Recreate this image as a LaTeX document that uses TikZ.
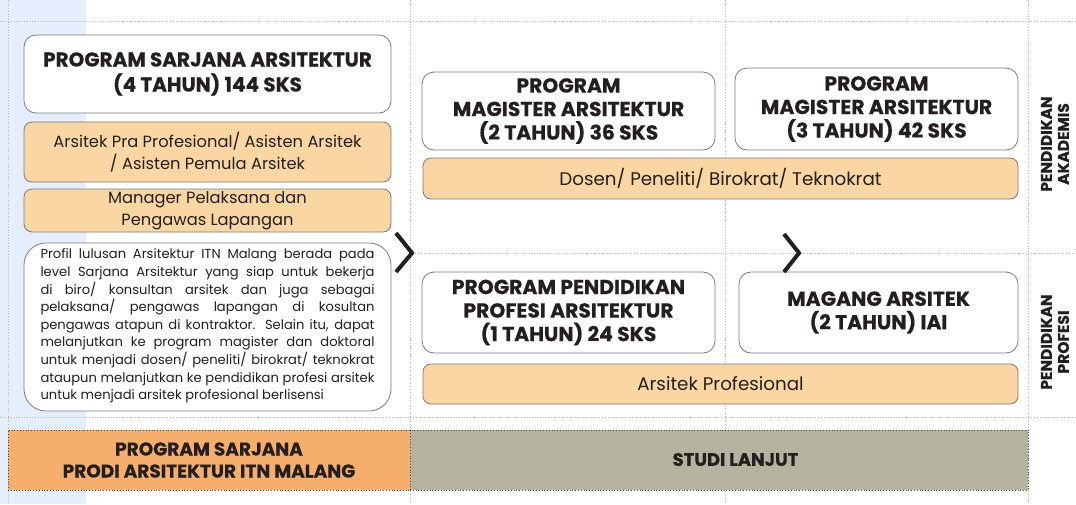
\documentclass[tikz,border=0pt]{standalone}
\usepackage{fontspec}
\setmainfont{Poppins}
\newfontfamily\rfont{Poppins}
\newfontfamily\hfont{Poppins}[BoldFeatures={FakeBold=0.4}]
\definecolor{txt}{HTML}{231F20}
\definecolor{band}{HTML}{E4EEFC}
\definecolor{peach}{HTML}{FAD7A2}
\definecolor{orangebar}{HTML}{F5AE6B}
\definecolor{graybar}{HTML}{B5B39E}
\definecolor{edge}{HTML}{7A7A7A}
\definecolor{dotc}{HTML}{B8B8B8}
\begin{document}
\begin{tikzpicture}[x=1pt,y=-1pt,
  guide/.style={dotc,dotted,line width=0.7pt},
  whitebox/.style={draw=edge,fill=white,rounded corners=12pt,line width=0.8pt,align=center,text=txt,inner sep=0pt},
  peachbox/.style={draw=edge,fill=peach,rounded corners=8pt,line width=0.8pt,align=center,text=txt,inner sep=0pt},
  bar/.style={draw=txt!80,dotted,line width=0.8pt,align=center,text=txt,inner sep=0pt},
  title/.style={font=\hfont\bfseries\fontsize{20}{25}\selectfont},
  midtitle/.style={font=\hfont\bfseries\fontsize{20.3}{23.5}\selectfont},
  plain/.style={font=\rfont\fontsize{16.3}{22}\selectfont},
  plainbig/.style={font=\rfont\fontsize{18.3}{22}\selectfont},
  side/.style={font=\hfont\bfseries\fontsize{15.5}{17}\selectfont,text=txt,align=center,rotate=90},
  chev/.style={txt,line width=4pt,line cap=butt,line join=miter}]
\useasboundingbox (0,0) rectangle (1076,504);
\fill[white] (0,0) rectangle (1076,504);
\fill[band] (0,0) rectangle (86,504);
% guide lines
\draw[guide] (0,21) -- (1076,21);
\draw[guide] (410,253) -- (1076,253);
\draw[guide] (0,417) -- (1076,417);
\draw[guide] (8,0) -- (8,504);
\draw[guide] (410,0) -- (410,504);
\draw[guide] (725,0) -- (725,504);
\draw[guide] (1028,0) -- (1028,504);
% left column
\node[whitebox,title,minimum width=367pt,minimum height=78pt] (sarjana) at (207.5,74) {PROGRAM SARJANA ARSITEKTUR\\(4 TAHUN) 144 SKS};
\node[peachbox,plain,minimum width=367pt,minimum height=60pt] (pra) at (207.5,152) {Arsitek Pra Profesional/ Asisten Arsitek\\/ Asisten Pemula Arsitek};
\node[peachbox,plain,minimum width=367pt,minimum height=43pt] (mgr) at (207.5,210.5) {Manager Pelaksana dan\\Pengawas Lapangan};
\node[whitebox,rounded corners=22pt,minimum width=367pt,minimum height=168pt] (profil) at (207.5,327) {};
\node[text width=334pt,align=justify,text=txt,inner sep=0pt,font=\rfont\fontsize{13.1}{17.6}\selectfont] (profiltext) at ([yshift=1pt]profil.center) {\hyphenpenalty=10000\exhyphenpenalty=10000 Profil lulusan Arsitektur ITN Malang berada pada\linebreak
level Sarjana Arsitektur yang siap untuk bekerja\linebreak
di biro/ konsultan arsitek dan juga sebagai\linebreak
pelaksana/ pengawas lapangan di kosultan\linebreak
pengawas atapun di kontraktor. Selain itu, dapat\linebreak
melanjutkan ke program magister dan doktoral\linebreak
untuk menjadi dosen/ peneliti/ birokrat/ teknokrat\linebreak
ataupun melanjutkan ke pendidikan profesi arsitek\linebreak
untuk menjadi arsitek profesional berlisensi\par};
% middle / right
\node[whitebox,midtitle,minimum width=293pt,minimum height=78pt] (mag2) at (568.5,111) {PROGRAM\\MAGISTER ARSITEKTUR\\(2 TAHUN) 36 SKS};
\node[whitebox,midtitle,minimum width=283pt,minimum height=82pt] (mag3) at (876.5,109) {PROGRAM\\MAGISTER ARSITEKTUR\\(3 TAHUN) 42 SKS};
\node[peachbox,plainbig,minimum width=595pt,minimum height=41pt] (dosen) at (720.5,178.5) {Dosen/ Peneliti/ Birokrat/ Teknokrat};
\node[whitebox,midtitle,minimum width=293pt,minimum height=81pt] (ppa) at (568.5,312.5) {PROGRAM PENDIDIKAN\\PROFESI ARSITEKTUR\\(1 TAHUN) 24 SKS};
\node[whitebox,midtitle,minimum width=279pt,minimum height=81pt] (magang) at (878.5,312.5) {MAGANG ARSITEK\\(2 TAHUN) IAI};
\node[peachbox,plainbig,minimum width=595pt,minimum height=40pt] (arsprof) at (720.5,384) {Arsitek Profesional};
% bottom bars
\node[bar,fill=orangebar,minimum width=402pt,minimum height=60pt,font=\hfont\bfseries\fontsize{18.5}{22}\selectfont] (barleft) at (209,460) {PROGRAM SARJANA\\PRODI ARSITEKTUR ITN MALANG};
\node[bar,fill=graybar,minimum width=618pt,minimum height=60pt] (barright) at (719,460) {};
\node[text=txt,inner sep=0pt,font=\hfont\bfseries\fontsize{18}{22}\selectfont] (studi) at (735.5,459.5) {STUDI LANJUT};
% side labels
\node[side] (akad) at (1055,144) {PENDIDIKAN\\AKADEMIS};
\node[side] (prof) at (1055,342) {PENDIDIKAN\\PROFESI};
% chevrons
\draw[chev] (396,233) -- (412,253) -- (396,272);
\draw[chev] (784,234) -- (799,253) -- (784,272);
\end{tikzpicture}
\end{document}
